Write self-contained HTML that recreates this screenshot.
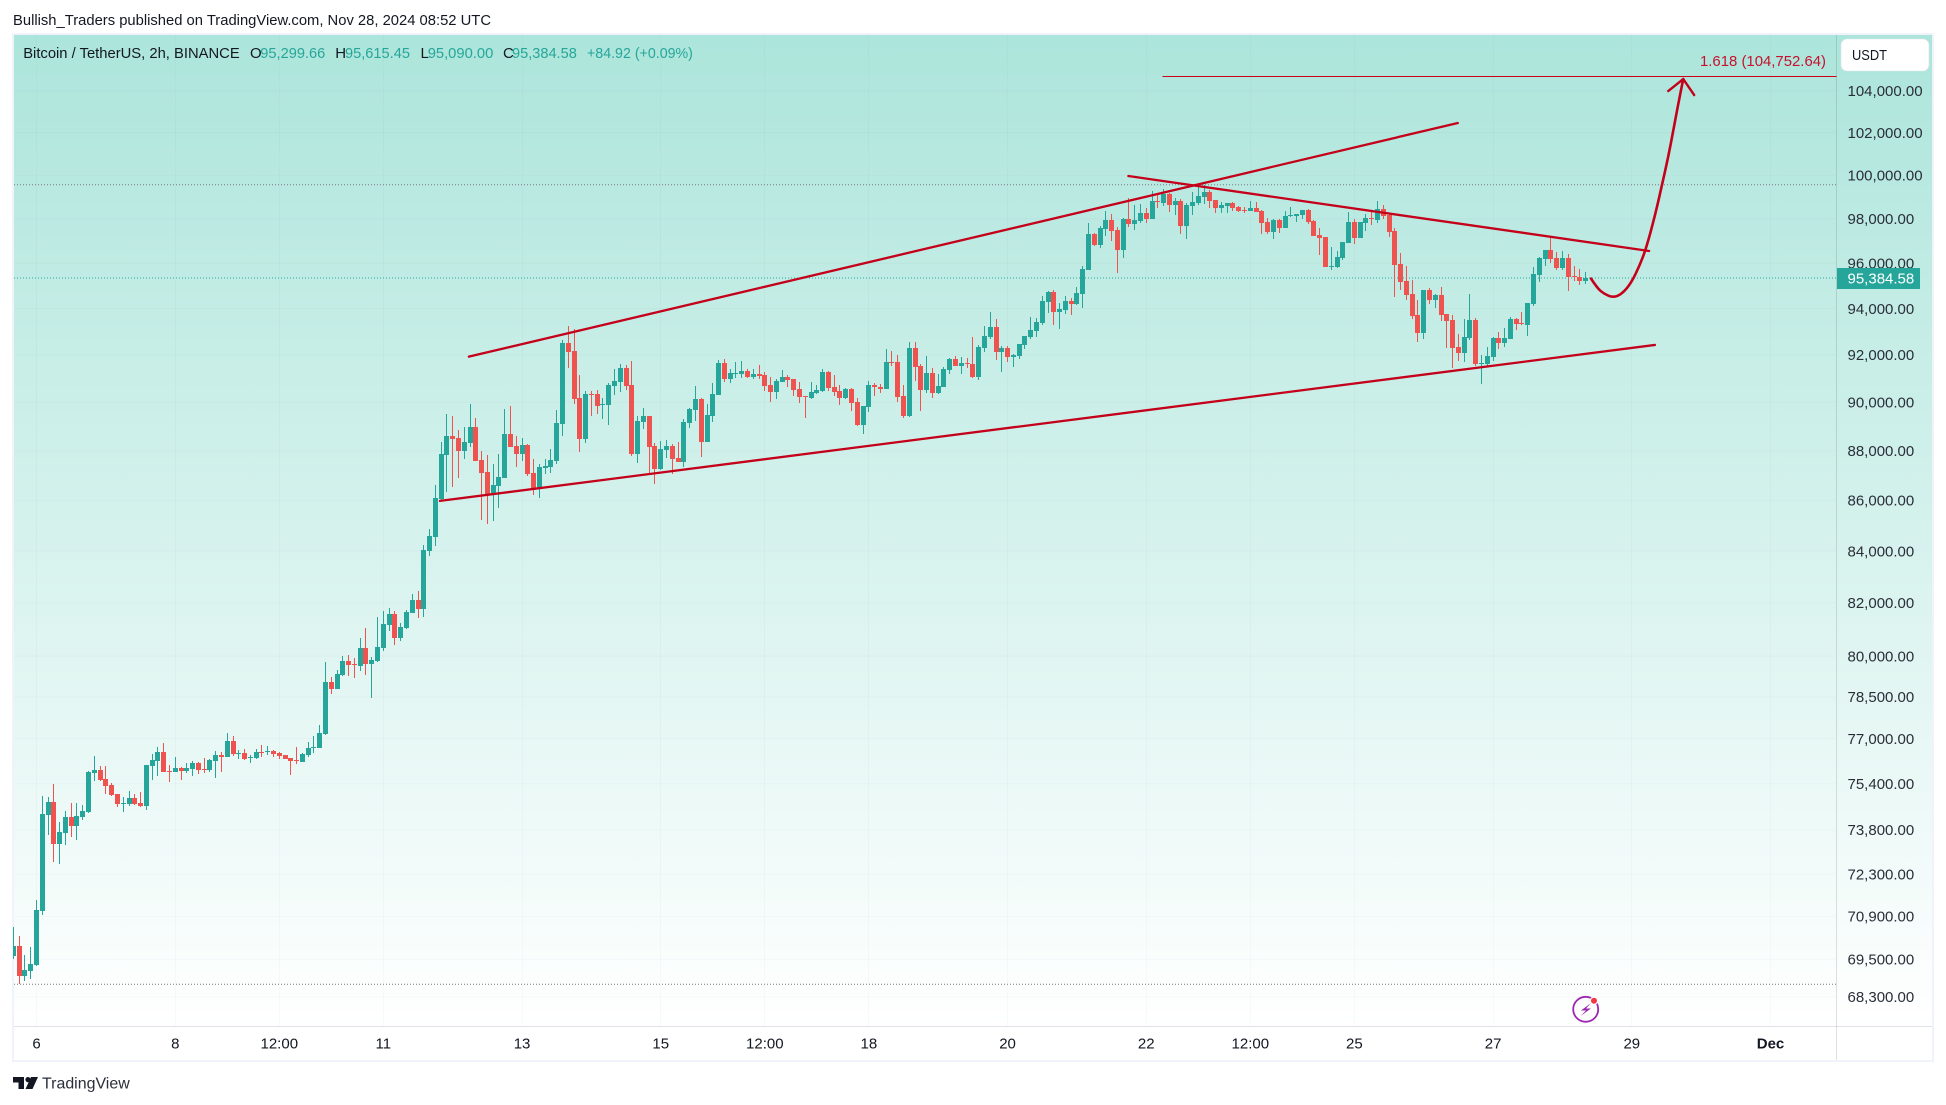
<!DOCTYPE html>
<html lang="en">
<head>
<meta charset="utf-8">
<title>Bitcoin / TetherUS, 2h, BINANCE</title>
<style>
html,body{margin:0;padding:0;background:#fff;width:1946px;height:1105px;overflow:hidden}
svg{display:block}
text{font-family:"Liberation Sans",sans-serif;fill:#131722}
</style>
</head>
<body>
<svg id="chart" xmlns="http://www.w3.org/2000/svg" width="1946" height="1105" viewBox="0 0 1946 1105" font-size="15">
  <defs>
    <linearGradient id="bg" x1="0" y1="0" x2="0" y2="1">
      <stop offset="0" stop-color="#ace5db"/>
      <stop offset="1" stop-color="#ffffff"/>
    </linearGradient>
    <clipPath id="plot-clip"><rect x="13" y="35" width="1823" height="991"/></clipPath>
  </defs>
  <text x="13" y="25" font-size="15" textLength="478" lengthAdjust="spacingAndGlyphs">Bullish_Traders published on TradingView.com, Nov 28, 2024 08:52 UTC</text>
  <rect x="13" y="34" width="1920" height="1027" fill="#ffffff" stroke="#f0f3fa" stroke-width="2"/>
  <rect x="14" y="35" width="1918" height="991" fill="url(#bg)"/>
  <g id="grid" clip-path="url(#plot-clip)"></g>
  <g id="ref-lines"></g>
  <g id="candles" clip-path="url(#plot-clip)" shape-rendering="crispEdges"></g>
  <g id="drawings" fill="none" stroke="#c4001a" stroke-linecap="round" stroke-linejoin="round"></g>
  <line x1="14" y1="1026.5" x2="1932" y2="1026.5" stroke="#e0e3eb" stroke-width="1"/>
  <line x1="1836.5" y1="35" x2="1836.5" y2="1060" stroke="#2a2e39" stroke-opacity="0.14" stroke-width="1"/>
  <g id="price-axis"></g>
  <g id="time-axis"></g>

  <rect x="1837" y="268" width="83" height="21" fill="#26a69a"/>
  <text x="1847.5" y="283.5" style="fill:#ffffff">95,384.58</text>

  <g>
    <rect x="1841" y="39" width="88" height="32" rx="6" fill="#ffffff" stroke="#e0e3eb" stroke-width="0.6"/>
    <text x="1852" y="60" font-size="15" textLength="35" lengthAdjust="spacingAndGlyphs">USDT</text>
  </g>

  <g font-size="15">
    <text x="23.2" y="58" textLength="216.5" lengthAdjust="spacingAndGlyphs">Bitcoin / TetherUS, 2h, BINANCE</text>
    <text x="250" y="58">O</text>
    <text x="260.3" y="58" textLength="65" lengthAdjust="spacingAndGlyphs" style="fill:#26a69a">95,299.66</text>
    <text x="335.3" y="58">H</text>
    <text x="345" y="58" textLength="65" lengthAdjust="spacingAndGlyphs" style="fill:#26a69a">95,615.45</text>
    <text x="420.5" y="58">L</text>
    <text x="427.7" y="58" textLength="65.6" lengthAdjust="spacingAndGlyphs" style="fill:#26a69a">95,090.00</text>
    <text x="503" y="58">C</text>
    <text x="512" y="58" textLength="64.8" lengthAdjust="spacingAndGlyphs" style="fill:#26a69a">95,384.58</text>
    <text x="587" y="58" textLength="105.9" lengthAdjust="spacingAndGlyphs" style="fill:#26a69a">+84.92 (+0.09%)</text>
  </g>

  <text x="1700" y="66" font-size="15" textLength="126" lengthAdjust="spacingAndGlyphs" style="fill:#c8102e">1.618 (104,752.64)</text>

  <g>
    <circle cx="1585.7" cy="1009.3" r="12.5" fill="none" stroke="#9c27b0" stroke-width="1.8"/>
    <path d="M1591 1003 L1581 1010.5 L1586 1010.5 L1580.5 1016 L1591 1008.5 L1586 1008.5 Z" fill="#9c27b0"/>
    <circle cx="1594" cy="1000.7" r="4.2" fill="#ffffff"/>
    <circle cx="1594" cy="1000.7" r="3" fill="#f23645"/>
  </g>

  <g>
    <path d="M13 1077h11v12h-5.5v-6.5H13z" fill="#131722"/>
    <circle cx="28" cy="1079.6" r="2.6" fill="#131722"/>
    <polygon points="31,1077 38,1077 32.5,1089 25.5,1089" fill="#131722"/>
    <text x="42" y="1088.5" font-size="16" textLength="87.7" lengthAdjust="spacingAndGlyphs" style="fill:#2a2e39">TradingView</text>
  </g>
</svg>
<script>
const opens=[
69610,69940,68970,69130,69320,71080,74320,74770,73320,73700,
74250,73940,74250,74420,75780,75890,75570,75360,75050,74700,
74700,74900,74730,74630,76030,76200,76520,75850,75820,75960,
75850,75920,76130,75920,75890,76200,76420,76340,76920,76450,
76490,76310,76310,76520,76520,76560,76490,76420,76310,76240,
76170,76420,76660,76660,77170,79050,78790,79300,79820,79710,
79640,80300,79710,79820,80300,81170,81580,80680,81060,81620,
82110,81770,84000,84550,86050,87830,88600,88520,87990,88320,
88970,87620,87140,86250,86570,86900,88690,88200,87870,88240,
87100,86490,87300,87340,87580,89100,92510,92170,90180,88480,
90350,90350,89890,89890,90680,90850,91440,90720,87870,89180,
89430,88200,87260,88030,88200,87700,87540,89140,89680,90140,
88360,89430,90300,91660,90980,91190,91190,91320,91060,91190,
91150,90720,90430,90850,91060,90980,90560,90260,90180,90390,
90480,91280,90640,90480,90180,90560,90020,89060,89800,90720,
90640,90560,91700,91700,90260,89430,92300,91530,90520,91240,
90390,90640,91360,91830,91530,91660,91620,91060,92300,92770,
93200,92120,92300,91920,91960,92420,92770,93030,93380,94290,
94720,93850,93940,94330,94200,94640,95700,97310,96820,97540,
97940,97490,96590,97990,97760,97900,98260,97990,98810,98720,
99130,98630,98810,97670,98580,98720,99000,99220,98860,98490,
98580,98720,98540,98400,98360,98490,98360,97860,97400,97940,
97580,98120,98120,98180,98400,97900,97260,97180,95830,95830,
96240,96900,97860,97130,97810,98040,97940,98440,98180,97440,
95960,95210,94640,93720,92940,94820,94380,94600,93760,93500,
92340,92080,92720,93500,91620,91620,91920,92720,92510,92680,
93550,93380,93290,94200,95480,96190,96590,96240,95780,96240,
95430,95390,95210];
const highs=[
70550,70260,69640,69900,71440,74980,74940,75400,74080,74460,
74730,74730,74660,75850,76380,76030,76030,75430,75050,74940,
75150,75050,75120,76060,76450,76700,76840,76060,76340,76000,
76130,76200,76170,76310,76280,76560,76520,77200,77090,76590,
76630,76420,76630,76770,76740,76590,76520,76420,76310,76700,
76490,76880,77090,77490,79780,79230,79490,80000,80040,79940,
80680,81060,79970,81470,81700,81810,81700,81240,81730,82340,
82460,84240,84860,86610,88360,89510,89430,88850,88980,89930,
89350,87990,87830,87460,87870,89720,89850,88600,88520,88280,
87660,87460,87660,88070,89680,92640,93250,93110,91150,90480,
90480,90520,90180,90810,91400,91620,91570,91740,89430,89760,
89430,88320,88400,88440,88280,88360,89310,89760,90680,90180,
89930,90810,91780,91830,91400,91700,91740,91400,91400,91570,
91280,91060,90980,91360,91150,90980,90850,90260,90850,90720,
91400,91320,91150,90720,90600,90600,90180,89850,90900,90810,
90770,92260,92170,92000,90720,92560,92560,91620,91960,91440,
91190,91490,91870,91960,91920,91870,92770,92420,93250,93850,
93540,92380,92380,92040,92470,92810,93640,93590,94550,94770,
94820,94250,94550,94460,94950,95880,97810,97360,97670,98360,
98220,97620,98040,98950,98630,98680,98490,99270,99090,99360,
99180,98950,98900,98720,99220,99550,99550,99320,98860,98760,
98720,98760,98580,98540,98810,98760,98400,98040,97990,97990,
98360,98540,98220,98400,98440,97940,97580,97180,96720,96540,
96950,98310,97990,97860,98220,98360,98810,98630,98260,97580,
96460,95880,95260,94380,94820,94900,94640,94950,93760,93720,
92900,93550,94640,93590,92000,92340,92770,92980,93160,93640,
93590,93850,94250,95830,96280,96590,97220,96500,96540,96410,
95880,95740,95615];
const lows=[
69520,68700,68790,68870,69290,70950,73630,72720,72650,73290,
73560,73460,74150,74390,75500,75500,75050,74980,74600,74420,
74630,74660,74600,74490,75530,75670,75820,75470,75820,75540,
75780,75670,75750,75780,75820,75600,75820,76340,76380,76280,
76240,76130,76280,76340,76420,76340,76280,76280,75710,76100,
76170,76340,76490,76660,77130,78610,78790,79270,79270,79200,
79460,79300,78460,79780,80200,80940,80420,80560,81020,81620,
81430,81470,83810,84200,86010,86340,86530,86900,87660,88150,
87580,85220,85060,85180,85700,86900,88160,87340,87580,86980,
86210,86090,87060,87100,87460,88600,91450,89930,87950,88320,
89430,89510,89310,89060,90300,90430,90520,87790,87500,88900,
87020,86650,87220,87700,87060,87540,87340,88940,89220,87750,
88360,89180,90300,90850,90810,91020,91020,91020,90980,90980,
90470,90020,90140,90850,90640,90260,89970,89350,90140,90350,
90430,90480,90260,89890,90140,89640,89020,88690,89600,90260,
90390,90560,91530,90020,89350,89390,90900,89640,90390,90180,
90350,90640,91190,91530,91190,91440,91020,90940,92120,92680,
91780,91280,91700,91490,91830,92260,92680,92770,93290,93810,
93290,93120,93760,93720,94160,94020,95700,96770,96680,97220,
97000,95560,96230,97620,97490,97810,97810,97990,98490,98580,
98310,98180,97310,97080,98180,98630,98680,98490,98260,98260,
98260,98360,98310,98260,98360,98310,97310,97310,97080,97360,
97580,98080,97860,97990,97760,97220,96360,95830,95700,95780,
96140,96900,96860,97130,97440,97720,97810,97990,97180,94510,
94820,94380,93550,92560,92680,94200,94020,93460,92300,91440,
91740,91700,92640,91530,90770,91530,91740,92260,92340,92680,
93070,93290,92810,94120,95170,95880,96010,95700,95700,94770,
95210,95040,95090];
const closes=[
69940,68970,69160,69350,71110,74350,74770,73320,73740,74250,
73940,74290,74460,75820,75890,75540,75330,75010,74700,74730,
74900,74700,74630,76060,76240,76520,75820,75820,75960,75850,
75960,76130,75890,75890,76240,76420,76340,76920,76450,76490,
76280,76340,76520,76490,76560,76450,76380,76280,76200,76200,
76450,76660,76700,77200,79050,78790,79340,79820,79670,79670,
80300,79710,79860,80340,81200,81580,80680,81090,81660,82110,
81770,84040,84590,86090,87870,88600,88480,87990,88360,88970,
87580,87100,86210,86610,86930,88690,88160,87870,88240,87060,
86490,87340,87380,87620,89140,92510,92130,90140,88480,90350,
90300,89850,89930,90720,90900,91440,90680,87870,89220,89430,
88160,87260,88070,88200,87660,87540,89180,89720,90140,88360,
89470,90350,91660,90980,91240,91240,91320,91060,91190,91100,
90680,90430,90900,91060,90940,90520,90220,90220,90430,90520,
91280,90600,90430,90180,90560,89970,89060,89850,90720,90640,
90560,91700,91660,90220,89430,92300,91490,90520,91240,90390,
90680,91400,91830,91530,91660,91620,91060,92340,92810,93200,
92120,92300,91920,92000,92470,92810,93070,93420,94330,94720,
93850,93980,94330,94200,94680,95740,97310,96820,97580,97940,
97440,96590,97990,97760,97940,98260,97990,98810,98760,99130,
98630,98810,97670,98630,98760,99040,99220,98810,98490,98630,
98720,98490,98360,98360,98490,98310,97810,97400,97940,97580,
98120,98180,98220,98400,97860,97220,97130,95830,95880,96280,
96950,97860,97130,97860,98040,97990,98440,98120,97400,95920,
95170,94600,93680,92940,94820,94380,94600,93720,93460,92300,
92080,92770,93500,91620,91660,91960,92720,92510,92720,93550,
93330,93330,94250,95520,96240,96590,96190,95780,96240,95390,
95390,95210,95345];

const priceTicks=[104000,102000,100000,98000,96000,94000,92000,90000,88000,86000,84000,82000,80000,78500,77000,75400,73800,72300,70900,69500,68300];
const timeTickBars=[4,28,46,64,88,112,130,148,172,196,214,232,256,280,304];
const timeTickLabels=["6","8","12:00","11","13","15","12:00","18","20","22","12:00","25","27","29","Dec"];

const periodHigh=99560;
const periodLow=68700;
const lastPrice=95345;
const fibPrice=104680;
const fibStartBar=198.9;

const upperTrendBars=[78.8,249.9];
const upperTrendPrices=[91925,102453];
const lowerTrendBars=[73.8,284];
const lowerTrendPrices=[85973,92426];
const fallingTrendBars=[192.9,283];
const fallingTrendPrices=[99964,96546];
const projectionBars=[272.95,274,275.2,276.8,278.3,279.9,281.4,282.5,284,285.2,286.3,287.2,288,288.9];
const projectionPrices=[95314,94903,94640,94478,94640,95124,95921,96680,98127,99516,100850,102120,103310,104565];
const arrowBars=[286.3,288.9,290.8];
const arrowPrices=[103985,104565,103790];

const SVGNS="http://www.w3.org/2000/svg";
const PLOT_LEFT=14, PLOT_RIGHT=1836, PLOT_TOP=35, PLOT_BOTTOM=1026;
function xScale(bar){return 13.4+5.78*bar;}
function yScale(price){return 90.7+2155*Math.log(104000/price);}
function make(tag,parent){const el=document.createElementNS(SVGNS,tag);parent.appendChild(el);return el;}
function setAll(el,attrs){for(const k in attrs){el.setAttribute(k,attrs[k]);}}

const gridG=document.getElementById("grid");
priceTicks.forEach(function(p){
  const ln=make("line",gridG);
  
  
  setAll(ln,{x1:PLOT_LEFT,x2:PLOT_RIGHT,y1:yScale(p),y2:yScale(p),stroke:"#787b86","stroke-opacity":0.045});
});
timeTickBars.forEach(function(b){
  const ln=make("line",gridG);
  
  
  const gx=Math.floor(xScale(b))+0.5;
  setAll(ln,{x1:gx,x2:gx,y1:PLOT_TOP,y2:PLOT_BOTTOM,stroke:"#787b86","stroke-opacity":0.045});
});

const refG=document.getElementById("ref-lines");
const hiLine=make("line",refG);


setAll(hiLine,{x1:PLOT_LEFT,x2:PLOT_RIGHT,y1:yScale(periodHigh),y2:yScale(periodHigh),stroke:"#787b86","stroke-width":1,"stroke-dasharray":"1 2"});
const loLine=make("line",refG);


setAll(loLine,{x1:PLOT_LEFT,x2:PLOT_RIGHT,y1:yScale(periodLow),y2:yScale(periodLow),stroke:"#787b86","stroke-width":1,"stroke-dasharray":"1 2"});
const lastLine=make("line",refG);


setAll(lastLine,{x1:PLOT_LEFT,x2:PLOT_RIGHT,y1:yScale(lastPrice),y2:yScale(lastPrice),stroke:"#26a69a","stroke-width":1,"stroke-dasharray":"1 2"});

const candleG=document.getElementById("candles");
closes.forEach(function(c,i){
  const o=opens[i], h=highs[i], l=lows[i];
  const color=c>=o?"#26a69a":"#ef5350";
  const cx=Math.floor(xScale(i));
  const g=make("g",candleG);
  
  
  const wick=make("rect",g);
  
  
  const wickTop=Math.round(yScale(h)), wickBot=Math.round(yScale(l));
  setAll(wick,{x:cx,y:wickTop,width:1,height:Math.max(1,wickBot-wickTop),fill:color});
  const body=make("rect",g);
  
  
  const bodyTop=Math.round(yScale(Math.max(o,c))), bodyBot=Math.round(yScale(Math.min(o,c)));
  setAll(body,{x:cx-2,y:bodyTop,width:5,height:Math.max(1,bodyBot-bodyTop),fill:color});
});

const drawG=document.getElementById("drawings");
function straight(bars,prices,width){
  const el=make("line",drawG);
  setAll(el,{x1:xScale(bars[0]),y1:yScale(prices[0]),x2:xScale(bars[1]),y2:yScale(prices[1]),"stroke-width":width});
  return el;
}
const upperLine=straight(upperTrendBars,upperTrendPrices,2.3);


const lowerLine=straight(lowerTrendBars,lowerTrendPrices,2.3);


const fallingLine=straight(fallingTrendBars,fallingTrendPrices,2.3);



const fibLine=make("line",drawG);


setAll(fibLine,{x1:xScale(fibStartBar),x2:PLOT_RIGHT,y1:yScale(fibPrice),y2:yScale(fibPrice),"stroke-width":1,stroke:"#cc0018","shape-rendering":"crispEdges"});

const curve=make("path",drawG);


let d="M"+xScale(projectionBars[0])+" "+yScale(projectionPrices[0]);
for(let i=1;i<projectionBars.length-1;i++){
  const mx=(xScale(projectionBars[i])+xScale(projectionBars[i+1]))/2;
  const my=(yScale(projectionPrices[i])+yScale(projectionPrices[i+1]))/2;
  d+=" Q"+xScale(projectionBars[i])+" "+yScale(projectionPrices[i])+" "+mx+" "+my;
}
d+=" L"+xScale(projectionBars[projectionBars.length-1])+" "+yScale(projectionPrices[projectionPrices.length-1]);
setAll(curve,{d:d,"stroke-width":2.6});

const arrow=make("polyline",drawG);


setAll(arrow,{points:arrowBars.map(function(b,i){return xScale(b)+","+yScale(arrowPrices[i]);}).join(" "),"stroke-width":2.4});

const priceAxis=document.getElementById("price-axis");
priceTicks.forEach(function(p){
  const t=make("text",priceAxis);
  
  
  setAll(t,{x:1847.5,y:yScale(p)+5.3});
  t.style.fill="#2a2e39";
  t.textContent=p.toLocaleString("en-US",{minimumFractionDigits:2,maximumFractionDigits:2});
});

const timeAxis=document.getElementById("time-axis");
timeTickBars.forEach(function(b,i){
  const t=make("text",timeAxis);
  
  
  setAll(t,{x:xScale(b),y:1048.5,"text-anchor":"middle"});
  if(timeTickLabels[i]==="Dec"){t.style.fontWeight="bold";}
  t.textContent=timeTickLabels[i];
});
</script>
</body>
</html>
